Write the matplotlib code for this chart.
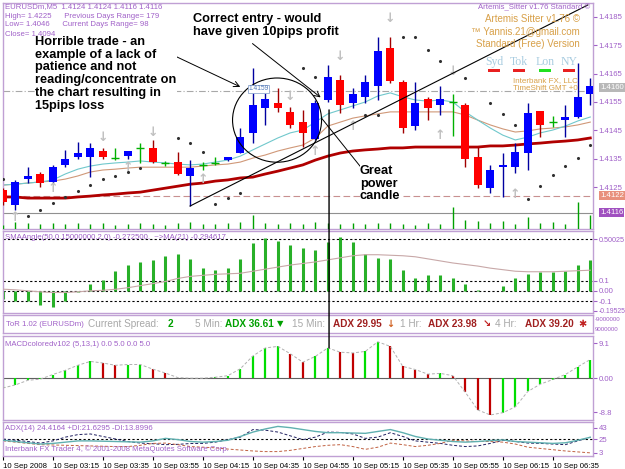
import numpy as np
import matplotlib
matplotlib.use("Agg")
import matplotlib.pyplot as plt
from matplotlib.patches import Ellipse, ConnectionPatch, Rectangle

# ---- data (EURUSDm M5, 10 Sep 2008 02:55 .. 06:50) ----
opens = [1.41239, 1.41186, 1.41278, 1.41296, 1.41268, 1.41328, 1.41356, 1.41356, 1.41377, 1.41352,
         1.41359, 1.41388, 1.41388, 1.41335, 1.41338, 1.41289, 1.41328, 1.41335, 1.41345, 1.41370,
         1.41441, 1.41529, 1.41546, 1.41515, 1.41479, 1.41419, 1.41557, 1.41628, 1.41546, 1.41568,
         1.41606, 1.41741, 1.41621, 1.41465, 1.41561, 1.41539, 1.41550, 1.41539, 1.41356, 1.41246,
         1.41320, 1.41320, 1.41370, 1.41518, 1.41479, 1.41486, 1.41497, 1.41578]
highs = [1.41246, 1.41275, 1.41320, 1.41303, 1.41328, 1.41381, 1.41409, 1.41405, 1.41388, 1.41388,
         1.41377, 1.41405, 1.41416, 1.41342, 1.41374, 1.41345, 1.41338, 1.41356, 1.41356, 1.41458,
         1.41670, 1.41582, 1.41599, 1.41532, 1.41522, 1.41557, 1.41681, 1.41645, 1.41599, 1.41645,
         1.41779, 1.41779, 1.41628, 1.41621, 1.41568, 1.41606, 1.41578, 1.41546, 1.41391, 1.41328,
         1.41370, 1.41405, 1.41546, 1.41518, 1.41501, 1.41539, 1.41688, 1.41635]
lows = [1.41186, 1.41169, 1.41264, 1.41249, 1.41264, 1.41320, 1.41349, 1.41285, 1.41349, 1.41345,
        1.41349, 1.41335, 1.41335, 1.41324, 1.41292, 1.41183, 1.41310, 1.41328, 1.41342, 1.41370,
        1.41405, 1.41469, 1.41515, 1.41458, 1.41391, 1.41416, 1.41550, 1.41511, 1.41529, 1.41546,
        1.41557, 1.41617, 1.41441, 1.41451, 1.41486, 1.41504, 1.41430, 1.41320, 1.41246, 1.41229,
        1.41215, 1.41299, 1.41310, 1.41426, 1.41462, 1.41426, 1.41493, 1.41539]
closes = [1.41197, 1.41268, 1.41289, 1.41264, 1.41320, 1.41349, 1.41370, 1.41388, 1.41356, 1.41353,
          1.41377, 1.41389, 1.41338, 1.41336, 1.41296, 1.41317, 1.41329, 1.41336, 1.41356, 1.41426,
          1.41539, 1.41561, 1.41529, 1.41469, 1.41441, 1.41546, 1.41638, 1.41539, 1.41578, 1.41621,
          1.41730, 1.41624, 1.41458, 1.41546, 1.41529, 1.41561, 1.41551, 1.41349, 1.41257, 1.41310,
          1.41328, 1.41374, 1.41511, 1.41469, 1.41480, 1.41497, 1.41568, 1.41606]

ma_fast = [1.41257, 1.41260, 1.41264, 1.41268, 1.41275, 1.41296, 1.41313, 1.41324, 1.41331, 1.41335,
           1.41338, 1.41342, 1.41338, 1.41335, 1.41331, 1.41328, 1.41331, 1.41338, 1.41345, 1.41359,
           1.41381, 1.41402, 1.41423, 1.41441, 1.41451, 1.41479, 1.41508, 1.41522, 1.41536, 1.41550,
           1.41571, 1.41582, 1.41568, 1.41557, 1.41553, 1.41557, 1.41550, 1.41515, 1.41486, 1.41458,
           1.41433, 1.41416, 1.41426, 1.41441, 1.41451, 1.41465, 1.41483, 1.41497]
ma_mid = [1.41257, 1.41260, 1.41264, 1.41268, 1.41271, 1.41278, 1.41289, 1.41303, 1.41310, 1.41313,
          1.41317, 1.41320, 1.41320, 1.41320, 1.41320, 1.41320, 1.41324, 1.41328, 1.41331, 1.41338,
          1.41352, 1.41363, 1.41377, 1.41388, 1.41398, 1.41423, 1.41465, 1.41479, 1.41493, 1.41501,
          1.41508, 1.41515, 1.41515, 1.41515, 1.41515, 1.41515, 1.41515, 1.41504, 1.41486, 1.41469,
          1.41455, 1.41444, 1.41448, 1.41455, 1.41458, 1.41462, 1.41469, 1.41479]
ma_slow = [1.41215, 1.41215, 1.41211, 1.41211, 1.41211, 1.41211, 1.41215, 1.41218, 1.41222, 1.41225,
           1.41229, 1.41232, 1.41239, 1.41246, 1.41253, 1.41260, 1.41264, 1.41271, 1.41275, 1.41282,
           1.41285, 1.41296, 1.41306, 1.41317, 1.41328, 1.41345, 1.41359, 1.41370, 1.41377, 1.41381,
           1.41384, 1.41388, 1.41388, 1.41391, 1.41391, 1.41391, 1.41391, 1.41391, 1.41391, 1.41395,
           1.41395, 1.41398, 1.41402, 1.41405, 1.41409, 1.41412, 1.41416, 1.41423]

sar_bars = [0, 2, 3, 4, 5, 6, 7, 8, 9, 10, 11, 14, 15, 16, 17, 18, 19, 24, 25, 29, 30,
            32, 33, 34, 35, 37, 39, 40, 41, 42, 43, 44, 45, 46, 47]
sar_vals = [1.41278, 1.41148, 1.41169, 1.41193, 1.41215, 1.41236, 1.41257, 1.41278, 1.41289,
            1.41303, 1.41317, 1.41423, 1.41405, 1.41374, 1.41190, 1.41211, 1.41229, 1.41670,
            1.41638, 1.41504, 1.41504, 1.41779, 1.41779, 1.41733, 1.41695, 1.41635, 1.41546,
            1.41508, 1.41469, 1.41208, 1.41253, 1.41292, 1.41324, 1.41352, 1.41398]

arrow_bars = [1, 4, 8, 10, 12, 16, 23, 25, 27, 28, 31, 35, 36, 41]
arrow_vals = [1.41144, 1.41246, 1.41426, 1.41320, 1.41444, 1.41278, 1.41568, 1.41377,
              1.41709, 1.41462, 1.41846, 1.41430, 1.41656, 1.41225]
arrow_dirs = ['up', 'up', 'down', 'up', 'down', 'up', 'down', 'up',
              'down', 'up', 'down', 'up', 'down', 'up']

vol = [4, 7, 6, 5, 6, 5, 6, 5, 6, 4, 5, 6, 5, 4, 6, 7, 5, 5, 6, 7, 14, 6, 5, 6,
       5, 7, 6, 5, 6, 5, 6, 6, 5, 4, 6, 5, 22, 9, 8, 6, 8, 5, 12, 6, 7, 5, 27, 14]

sma_angle = [-0.084, -0.094, -0.094, -0.14, -0.156, -0.094, -0.01, 0.069, 0.103, 0.1875,
             0.25, 0.28, 0.30, 0.334, 0.36, 0.31, 0.225, 0.203, 0.219, 0.31,
             0.4625, 0.516, 0.484, 0.447, 0.416, 0.397, 0.469, 0.525, 0.475, 0.36,
             0.322, 0.3125, 0.203, 0.125, 0.156, 0.15, 0.125, 0.069, 0.006, -0.006,
             0.047, 0.125, 0.1625, 0.18, 0.18, 0.1875, 0.25, 0.30]
sma_angle_ma = [0.016, 0.01, 0.0, -0.01, -0.016, -0.016, -0.01, 0.0, 0.005, 0.015,
                0.03, 0.05, 0.07, 0.09, 0.12, 0.14, 0.15, 0.16, 0.165, 0.17,
                0.19, 0.21, 0.23, 0.25, 0.265, 0.28, 0.30, 0.32, 0.34, 0.35,
                0.35, 0.345, 0.34, 0.33, 0.31, 0.29, 0.27, 0.255, 0.24, 0.22,
                0.205, 0.19, 0.185, 0.185, 0.185, 0.19, 0.195, 0.20]
sma_levels = [0.5, 0.1, 0.0, -0.1]

macd = [-2.5, -1.7, -0.5, -0.2, 1.0, 2.1, 3.4, 4.4, 4.0, 3.4,
        3.6, 3.6, 2.4, 1.4, 0.2, 0.05, 0.05, 0.3, 0.7, 2.5,
        5.8, 7.9, 8.3, 6.4, 4.2, 5.7, 7.9, 6.8, 6.6, 7.0,
        9.5, 8.3, 3.1, 2.3, 1.1, 1.3, 0.7, -3.6, -8.2, -9.5,
        -8.9, -7.4, -3.4, -1.5, -0.3, 1.0, 3.0, 4.9]

adx = [23, 21, 19, 17, 18, 20, 22, 22, 21.5, 21, 20.5, 20, 22, 26, 24, 21, 20, 21, 23, 29,
       36, 41, 45, 43, 40, 37, 35, 35, 34.5, 34, 37, 40, 35, 29, 25, 23, 21, 20, 21, 22.5,
       23.5, 21, 20, 19, 18, 19, 23, 27.8]
plus_di = [25, 23, 21, 18.5, 22, 28, 32, 33, 29, 25, 21, 18.5, 17.5, 16, 16.5, 17.8, 18, 20, 24, 28,
           40, 39, 36, 30, 24, 28, 36, 35.5, 33, 26, 28, 35, 29, 22, 20, 18, 15, 13, 14, 18,
           23, 21, 18.5, 18, 17, 16, 22, 27.8]
minus_di = [22, 20, 18, 16, 15.5, 15, 14.5, 14, 13.5, 13, 13, 15, 18, 18.5, 16, 13, 12, 11, 9, 7.5,
            6, 5, 5, 7, 10, 13, 15, 16, 13, 8.6, 12, 18.5, 16, 13, 15, 18, 23, 22, 21, 21,
            20, 17, 12, 10, 8, 6, 4.5, 3]

time_labels = ['10 Sep 2008', '10 Sep 03:15', '10 Sep 03:35', '10 Sep 03:55', '10 Sep 04:15',
               '10 Sep 04:35', '10 Sep 04:55', '10 Sep 05:15', '10 Sep 05:35', '10 Sep 05:55',
               '10 Sep 06:15', '10 Sep 06:35']
price_ticks = [1.4125, 1.4135, 1.4145, 1.4155, 1.4165, 1.4175, 1.4185]

# ---- figure set up in screen pixels ----
W, H = 625, 469
fig = plt.figure(figsize=(6.25, 4.69), dpi=100)
PURPLE = '#A060C8'
FRAME = '#C0A0D4'
SMALL = dict(family=['Liberation Sans', 'DejaVu Sans'], fontsize=5.6)


def px_axes(x0, y0, x1, y1):
    a = fig.add_axes([x0 / W, 1 - y1 / H, (x1 - x0) / W, (y1 - y0) / H])
    for s in a.spines.values():
        s.set_color(FRAME)
        s.set_linewidth(1)
    a.set_xlim(0.016, 47.216)
    a.set_xticks([])
    a.yaxis.tick_right()
    a.tick_params(axis='y', length=3, color=PURPLE, labelcolor=PURPLE,
                  labelsize=5.6, pad=1)
    return a


def ftxt(x, y, s, **kw):
    kw.setdefault('va', 'center')
    return fig.text(x / W, 1 - y / H, s, **kw)


def frect(x0, y0, w, h, col):
    fig.add_artist(Rectangle((x0 / W, 1 - (y0 + h) / H), w / W, h / H,
                             transform=fig.transFigure, fc=col, ec='none'))


x = np.arange(len(opens))
o, h, l, c = map(np.array, (opens, highs, lows, closes))

# ================= main chart =================
ax = px_axes(3, 3, 593, 229)
ax.set_ylim(1.41102, 1.41899)
ax.set_yticks(price_ticks)
ax.set_yticklabels(['%.4f' % p for p in price_ticks], family='Liberation Sans')

ax.axhline(1.4159, color='#A8A8A8', lw=0.8, ls=(0, (6, 2, 1, 2)), zorder=1)
ax.axhline(1.4122, color='#C89090', lw=0.8, ls=(0, (6, 3)), zorder=1)
ax.axhline(1.4116, color='#909090', lw=0.8, zorder=1)

ax.plot(x, ma_slow, color='#B00000', lw=2, zorder=2)
ax.plot(x, ma_mid, color='#D09878', lw=0.8, zorder=2)
ax.plot(x, ma_fast, color='#70C8CC', lw=0.8, zorder=2)

doji = np.abs(c - o) < 0.00003
up = (c > o) & ~doji
dn = (c < o) & ~doji
ax.vlines(x[up], l[up], h[up], color='#0000A0', lw=1, zorder=3)
ax.vlines(x[dn], l[dn], h[dn], color='#A00000', lw=1, zorder=3)
ax.bar(x[up], (c - o)[up], bottom=o[up], width=0.64, color='#0000FF', zorder=4)
ax.bar(x[dn], (o - c)[dn], bottom=c[dn], width=0.64, color='#FF0000', zorder=4)
ax.vlines(x[doji], l[doji], h[doji], color='#00B000', lw=1, zorder=3)
ax.hlines(o[doji], x[doji] - 0.32, x[doji] + 0.32, color='#00B000', lw=1, zorder=3)

ax.scatter(sar_bars, sar_vals, s=1.5, color='#303030', zorder=3)
for b, v, d in zip(arrow_bars, arrow_vals, arrow_dirs):
    ax.text(b, v, '\u2191' if d == 'up' else '\u2193', color='#C0C0C0', fontsize=9,
            fontweight='bold', ha='center', va='center', family='DejaVu Sans', zorder=3)

# volume-like strip at the bottom of the price window
axv = fig.add_axes(ax.get_position().bounds, frameon=False)
axv.set_xlim(ax.get_xlim())
axv.set_ylim(0, 226)
axv.vlines(x, 0, vol, color='#00A000', lw=1)
axv.set_xticks([])
axv.set_yticks([])

# annotations drawn on the chart
ax.add_patch(Ellipse((21.94, 1.41486), 7.12, 0.00297, fill=False, ec='black', lw=0.8, zorder=5))
ax.plot([14.98, 46.8], [1.41183, 1.41892], color='black', lw=0.8, zorder=5)
ax.annotate('', xy=(19.2, 1.41599), xytext=(11.9, 1.41751),
            arrowprops=dict(arrowstyle='->', lw=0.7, color='black'), zorder=5)
ax.annotate('', xy=(25.6, 1.41560), xytext=(19.8, 1.41762),
            arrowprops=dict(arrowstyle='->', lw=0.7, color='black'), zorder=5)
ax.plot([25.5, 28.7], [1.41493, 1.41317], color='black', lw=0.7, zorder=5)
ax.text(20.46, 1.41596, '1.4159', fontsize=4.8, family='Liberation Sans', color='#5078B8',
        ha='center', va='center', zorder=6,
        bbox=dict(fc='white', ec='#90A8D0', lw=0.6, pad=0.6))

BOLD = dict(family='Liberation Sans', fontweight='bold', fontsize=9.2, color='black',
            va='top', linespacing=1.08)
ftxt(35, 36, 'Horrible trade - an\nexample of a lack of\npatience and not\n'
     'reading/concentrate on\nthe chart resulting in\n15pips loss',
     bbox=dict(fc='white', ec='none', pad=0.3), **BOLD)
ftxt(193, 13, 'Correct entry - would\nhave given 10pips profit', **BOLD)
ftxt(360, 165, 'Great\npower\ncandle', bbox=dict(fc='white', ec='none', pad=0.3), **BOLD)

# header text
for yy, s in [(7, 'EURUSDm,M5  1.4124 1.4124 1.4116 1.4116'),
              (16, 'High= 1.4225      Previous Days Range= 179'),
              (25, 'Low= 1.4046      Current Days Range= 98'),
              (34, 'Close= 1.4094')]:
    ftxt(5, yy, s, color=PURPLE, **SMALL)
ftxt(590, 8, 'Artemis_Sitter v1.76 Standard \u00a9', color=PURPLE, ha='right', **SMALL)
ORANGE = '#D8A048'
for yy, s in [(19, 'Artemis Sitter v1.76 \u00a9'), (32, '\u2122 Yannis.21@gmail.com'),
              (44, 'Standard (Free) Version')]:
    ftxt(580, yy, s, color=ORANGE, ha='right', family='Liberation Sans', fontsize=7)
for xx, s, col in [(494, 'Syd', '#E82020'), (519, 'Tok', '#E82020'),
                   (545, 'Lon', '#20E020'), (569, 'NY', '#E82020')]:
    ftxt(xx, 62, s, color='#A8CCE0', ha='center', family='Liberation Serif', fontsize=8.5)
    frect(xx - 6, 69.5, 12, 3, col)
ftxt(578, 81, 'Interbank FX, LLC', color=ORANGE, ha='right', family='Liberation Sans', fontsize=5.8)
ftxt(578, 89, 'TimeShift GMT +0', color=ORANGE, ha='right', family='Liberation Sans', fontsize=5.8)

# highlighted price labels
for yv, bg in [(1.4160, '#B8B8B8'), (1.4122, '#E8907C'), (1.4116, '#A050C0')]:
    ax.text(1.012, yv, '%.4f' % yv, transform=ax.get_yaxis_transform(), color='white',
            ha='left', va='center', family='Liberation Sans', fontsize=5.6,
            bbox=dict(fc=bg, ec='none', pad=0.8), clip_on=False)

# ================= SMA angle =================
ax2 = px_axes(3, 231, 593, 313)
ax2.set_ylim(-0.215, 0.58)
for lv in sma_levels:
    ax2.axhline(lv, color='black', lw=0.8, ls=(0, (2, 2)), zorder=1)
ax2.vlines(x, 0, sma_angle, color='#28B028', lw=2.2, zorder=2)
ax2.plot(x, sma_angle_ma, color='#C8A8A8', lw=0.8, zorder=3)
ax2.set_yticks([0.50025, 0.1, 0.0, -0.1, -0.19525])
ax2.set_yticklabels(['0.50025', '0.1', '0.00', '-0.1', '-0.19525'], family='Liberation Sans')
ax2.get_yticklabels()[-1].set_fontsize(4.9)
ax2.get_yticklabels()[0].set_fontsize(5.2)
ax2.text(0.003, 0.92, 'SMAAngle(50,0.15000000,2,0) -0.272500,  ~>MA(21) -0.294617',
         transform=ax2.transAxes, color=PURPLE, va='center', **SMALL)

# ================= ToR status line =================
ax3 = px_axes(3, 315, 593, 333)
ax3.set_ylim(0, 1)
ax3.set_yticks([0.22, 0.78])
ax3.set_yticklabels(['9000000', '-9000000'], family='Liberation Sans', fontsize=4.4)
ax3.tick_params(axis='y', length=0, pad=1.5)
ftxt(6, 324, 'ToR 1.02 (EURUSDm)', color=PURPLE, **SMALL)
GREY = '#A8A8A8'
MID = dict(family='Liberation Sans', fontsize=7.2)
ftxt(88, 324, 'Current Spread:', color=GREY, **MID)
ftxt(168, 324, '2', color='#00A000', fontweight='bold', **MID)
ftxt(195, 324, '5 Min:', color=GREY, **MID)
ftxt(225, 324, 'ADX 36.61', color='#00A000', fontweight='bold', **MID)
ftxt(277, 324, '\u25bc', color='#00A000', fontsize=6)
ftxt(292, 324, '15 Min:', color=GREY, **MID)
ftxt(333, 324, 'ADX 29.95', color='#A02020', fontweight='bold', **MID)
ftxt(386, 324, '\u2193', color='#D06020', fontweight='bold', fontsize=7)
ftxt(400, 324, '1 Hr:', color=GREY, **MID)
ftxt(428, 324, 'ADX 23.98', color='#A02020', fontweight='bold', **MID)
ftxt(483, 324, '\u2198', color='#C02020', fontweight='bold', fontsize=7)
ftxt(495, 324, '4 Hr:', color=GREY, **MID)
ftxt(525, 324, 'ADX 39.20', color='#A02020', fontweight='bold', **MID)
ftxt(578, 324, '\u2731', color='#C02020', fontsize=7)

# ================= MACD =================
ax4 = px_axes(3, 336, 593, 420)
ax4.set_ylim(-10.8, 11.0)
macd_a = np.array(macd)
rising = np.r_[True, macd_a[1:] >= macd_a[:-1]]
ax4.axhline(0, color='#606060', lw=0.8, zorder=1)
ax4.vlines(x[rising], 0, macd_a[rising], color='#00DD00', lw=1.6, zorder=2)
ax4.vlines(x[~rising], 0, macd_a[~rising], color='#C00000', lw=1.6, zorder=2)
ax4.plot(x, macd, color='#B0B0B0', lw=0.7, ls=(0, (3, 2)), zorder=3)
ax4.set_yticks([9.1, 0.0, -8.8])
ax4.set_yticklabels(['9.1', '0.00', '-8.8'], family='Liberation Sans')
ax4.text(0.003, 0.9, 'MACDcoloredv102 (5,13,1) 0.0 5.0 0.0 5.0', transform=ax4.transAxes,
         color=PURPLE, va='center', **SMALL)

# ================= ADX =================
ax5 = px_axes(3, 422, 593, 456)
ax5.set_ylim(-2, 52)
ax5.axhline(25, color='black', lw=0.8, ls=(0, (2, 2)), zorder=1)
ax5.plot(x, adx, color='#60B0B0', lw=1, zorder=3)
ax5.plot(x, plus_di, color='#202060', lw=0.7, ls=(0, (3, 2)), zorder=2)
ax5.plot(x, minus_di, color='#C06040', lw=0.7, ls=(0, (3, 2)), zorder=2)
ax5.set_yticks([43, 25, 3])
ax5.set_yticklabels(['43', '25', '3'], family='Liberation Sans')
ax5.text(0.003, 0.8, 'ADX(14) 24.4164 +DI:21.6295 -DI:13.8996', transform=ax5.transAxes,
         color=PURPLE, va='center', **SMALL)
ax5.text(0.003, 0.2, 'Interbank FX Trader 4, \u00a9 2001-2008 MetaQuotes Software Corp.',
         transform=ax5.transAxes, color=PURPLE, va='center', **SMALL)
ax5.set_xticks(np.arange(0, 48, 4))
ax5.set_xticklabels(time_labels, family='Liberation Sans', fontsize=5.6, ha='left')
ax5.tick_params(axis='x', length=3, color='black', pad=2)

# vertical marker line through the windows at the entry bar
con = ConnectionPatch(xyA=(26.1, 1.41522), coordsA=ax.transData,
                      xyB=(26.1, 7.9), coordsB=ax4.transData, color='black', lw=1)
fig.add_artist(con)

fig.savefig('out.png', dpi=100, facecolor='white')
